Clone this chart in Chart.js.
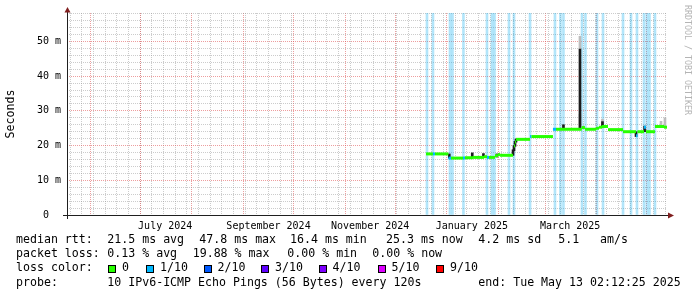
<!DOCTYPE html>
<html>
<head>
<meta charset="utf-8">
<title>smokeping</title>
<script src="https://cdn.jsdelivr.net/npm/chart.js@4.4.1/dist/chart.umd.min.js"></script>
<style>
  html, body { margin: 0; padding: 0; background: #fff; }
  #graph { position: relative; width: 697px; height: 297px; overflow: hidden; background: #fff; }
  #graph canvas { position: absolute; left: 0; top: 0; }
  .txt { position: absolute; font: 11.6px/1 'DejaVu Sans Mono', monospace; white-space: pre; color: #000; }
  .swatch { position: absolute; width: 6px; height: 6px; border: 1px solid #000; }
  #mark { position: absolute; left: 684px; top: 5px; font: 8.3px/1 'DejaVu Sans Mono', monospace; color: #b4b4b4; writing-mode: vertical-rl; white-space: pre; }
</style>
</head>
<body>
<div id="graph">
  <canvas id="chart" width="697" height="297"></canvas>
  <div id="legend"></div>
  <div id="mark">RRDTOOL / TOBI OETIKER</div>
</div>
<script>
(function () {
    // --- data ---
    const endStamp = 'Tue May 13 02:12:25 2025';
    const endTime = Date.UTC(2025, 4, 13, 2, 12, 25);
    const spanDays = 360;

    // median rtt steps (start of each step, value in ms, lost pings out of 10)
    const medianDates = [
        '2024-12-19T12', '2024-12-23T16', '2024-12-24T21', '2025-01-01T23', '2025-01-03T12',
        '2025-01-10T17', '2025-01-11T21', '2025-01-16T17', '2025-01-23T07', '2025-01-25T02',
        '2025-01-26T07', '2025-01-29T21', '2025-01-31T17', '2025-02-01T22', '2025-02-09T17',
        '2025-02-10T07', '2025-02-10T22', '2025-02-11T12', '2025-02-19T22', '2025-02-20T19',
        '2025-03-05T16', '2025-03-07T12', '2025-03-22T22', '2025-03-24T21', '2025-03-31T12',
        '2025-04-02T07', '2025-04-04T02', '2025-04-07T17', '2025-04-16T17', '2025-04-24T12',
        '2025-04-25T09', '2025-04-29T07', '2025-04-30T12', '2025-05-05T21', '2025-05-11T07',
    ];
    const medianMs = [
        17.6, 17.6, 17.6, 16.4, 16.4,
        16.4, 16.5, 16.6, 16.8, 16.6,
        16.6, 17.1, 17.4, 17.2, 18.6,
        19.9, 21.0, 21.8, 22.6, 22.6,
        24.7, 24.7, 25.2, 24.7, 25.0,
        25.3, 25.5, 24.6, 24.0, 22.8,
        24.0, 25.3, 24.0, 25.5, 25.3,
    ];
    const medianLoss = [
        0, 1, 0, 1, 0,
        1, 0, 0, 0, 1,
        0, 0, 0, 0, 0,
        0, 0, 0, 1, 0,
        1, 0, 0, 0, 0,
        0, 0, 0, 0, 1,
        0, 1, 0, 0, 0,
    ];

    // periods with 1/10 packet loss (background bars)
    const lossDates = [
        '2024-12-20T02', '2024-12-23T16', '2025-01-02T21', '2025-01-04T09', '2025-01-10T23',
        '2025-01-25T02', '2025-01-28T02', '2025-01-29T14', '2025-02-07T07', '2025-02-10T07',
        '2025-02-19T22', '2025-03-06T21', '2025-03-10T04', '2025-03-11T23', '2025-03-23T02',
        '2025-03-25T04', '2025-04-01T02', '2025-04-04T17', '2025-04-16T17', '2025-04-21T12',
        '2025-04-25T02', '2025-04-29T07', '2025-05-01T02', '2025-05-02T14', '2025-05-05T21',
    ];

    // smoke: dark spread of the pings
    const smokeDates = [
        '2025-01-02T11', '2025-01-16T06', '2025-01-22T23', '2025-01-31T02', '2025-02-09T17',
        '2025-02-10T07', '2025-02-10T22', '2025-02-11T12', '2025-03-11T23', '2025-03-21T21',
        '2025-04-04T09', '2025-04-24T12', '2025-04-29T16',
    ];
    const smokeLow = [16.4, 16.5, 16.6, 16.7, 17.2, 18.5, 19.8, 21.0, 24.7, 24.7, 25.3, 22.6, 24.0];
    const smokeHigh = [17.6, 17.9, 17.7, 17.6, 18.8, 20.0, 21.2, 21.9, 26.0, 47.8, 26.9, 24.0, 25.6];

    // smoke: light outer spread
    const hazeDates = ['2025-03-21T21', '2025-03-21T21', '2025-04-04T09', '2025-05-09T12', '2025-05-11T21'];
    const hazeLow = [47.8, 25.0, 25.0, 25.5, 25.5];
    const hazeHigh = [51.5, 29.0, 27.6, 27.0, 28.0];

    const yMax = 58.2;
    const yStep = 2;
    const yMajorStep = 10;
    const labelMonths = ['2024-07', '2024-09', '2024-11', '2025-01', '2025-03'];
    const monthNames = ['January', 'February', 'March', 'April', 'May', 'June', 'July',
        'August', 'September', 'October', 'November', 'December'];

    const rttStats = ['21.5 ms avg', '47.8 ms max', '16.4 ms min', '25.3 ms now', '4.2 ms sd', '5.1', 'am/s'];
    const lossStats = ['0.13 % avg', '19.88 % max', '0.00 % min', '0.00 % now'];
    const lossLabels = ['0', '1/10', '2/10', '3/10', '4/10', '5/10', '9/10'];
    const lossColors = ['#26ff00', '#00b8ff', '#0059ff', '#5e00ff', '#7e00ff', '#dd00ff', '#ff0000'];
    const probeText = '10 IPv6-ICMP Echo Pings (56 Bytes) every 120s';

    // --- helpers ---
    const t = (s) => Date.parse(s + ':00:00Z');
    const startTime = endTime - spanDays * 864e5;

    const RED = 'rgba(222, 79, 79, 0.55)';
    const GRAY = 'rgba(143, 143, 143, 0.45)';

    // x ticks: weekly minor grid, monthly major grid, bi-monthly labels
    const xTicks = [];
    const day = new Date(startTime);
    day.setUTCHours(0, 0, 0, 0);
    while (day.getUTCDay() !== 1) day.setUTCDate(day.getUTCDate() + 1);
    for (; day.getTime() < endTime; day.setUTCDate(day.getUTCDate() + 7)) {
        xTicks.push({ value: day.getTime(), kind: 'minor' });
    }
    const month = new Date(Date.UTC(2024, 5, 1));
    for (; month.getTime() < endTime; month.setUTCMonth(month.getUTCMonth() + 1)) {
        xTicks.push({ value: month.getTime(), kind: 'major' });
    }
    labelMonths.forEach((m) => {
        const [yy, mm] = m.split('-').map(Number);
        xTicks.push({ value: Date.UTC(yy, mm - 1, 1) + 15 * 864e5, kind: 'label', text: monthNames[mm - 1] + ' ' + yy });
    });
    xTicks.sort((a, b) => a.value - b.value);

    const yTicks = [];
    for (let v = 0; v <= yMax; v += yStep) yTicks.push({ value: v });

    // median as separate horizontal steps
    const medianPoints = [];
    medianDates.forEach((d, i) => {
        const x0 = t(d);
        const x1 = i + 1 < medianDates.length ? t(medianDates[i + 1]) : endTime;
        medianPoints.push({ x: x0, y: medianMs[i], loss: medianLoss[i] });
        medianPoints.push({ x: x1, y: medianMs[i], loss: medianLoss[i] });
        medianPoints.push({ x: x1, y: null, loss: 0 });
    });

    const axesPlugin = {
        id: 'rrdAxes',
        afterDraw(chart) {
            const { ctx, chartArea: a } = chart;
            ctx.save();
            ctx.strokeStyle = '#1f1f1f';
            ctx.lineWidth = 1;
            ctx.beginPath();
            ctx.moveTo(a.left - 4, a.bottom + 0.5);
            ctx.lineTo(a.right + 2, a.bottom + 0.5);
            ctx.moveTo(a.left + 0.5, a.bottom + 4);
            ctx.lineTo(a.left + 0.5, a.top - 1);
            ctx.stroke();
            ctx.fillStyle = '#801f1f';
            ctx.beginPath();
            ctx.moveTo(a.right + 1, a.bottom - 2.5);
            ctx.lineTo(a.right + 1, a.bottom + 3.5);
            ctx.lineTo(a.right + 7, a.bottom + 0.5);
            ctx.closePath();
            ctx.fill();
            ctx.beginPath();
            ctx.moveTo(a.left - 2.5, a.top - 0.5);
            ctx.lineTo(a.left + 3.5, a.top - 0.5);
            ctx.lineTo(a.left + 0.5, a.top - 6);
            ctx.closePath();
            ctx.fill();
            ctx.restore();
        },
    };

    Chart.defaults.font.family = "'DejaVu Sans Mono', monospace";
    Chart.defaults.color = '#000';

    new Chart(document.getElementById('chart'), {
        type: 'line',
        data: {
            datasets: [
                {
                    type: 'line',
                    label: 'median',
                    data: medianPoints,
                    borderWidth: 3,
                    borderCapStyle: 'butt',
                    pointRadius: 0,
                    spanGaps: false,
                    borderColor: lossColors[0],
                    segment: {
                        borderColor: (c) => (medianPoints[c.p0DataIndex].loss ? lossColors[1] : lossColors[0]),
                    },
                    order: 0,
                },
                {
                    type: 'bar',
                    label: 'smoke',
                    data: smokeDates.map((d, i) => ({ x: t(d), y: [smokeLow[i], smokeHigh[i]] })),
                    backgroundColor: '#1c1c1c',
                    barThickness: 2,
                    grouped: false,
                    order: 1,
                },
                {
                    type: 'bar',
                    label: 'haze',
                    data: hazeDates.map((d, i) => ({ x: t(d), y: [hazeLow[i], hazeHigh[i]] })),
                    backgroundColor: '#bdbdbd',
                    barThickness: 2,
                    grouped: false,
                    order: 2,
                },
                {
                    type: 'bar',
                    label: 'loss',
                    data: lossDates.map((d) => ({ x: t(d), y: [0, yMax] })),
                    backgroundColor: 'rgba(0, 170, 240, 0.3)',
                    barThickness: 2,
                    grouped: false,
                    order: 3,
                },
            ],
        },
        options: {
            responsive: false,
            devicePixelRatio: 1,
            animation: false,
            layout: { padding: { top: 13, right: 30, bottom: 0, left: 0 } },
            plugins: { legend: { display: false }, tooltip: { enabled: false } },
            scales: {
                x: {
                    type: 'linear',
                    min: startTime,
                    max: endTime,
                    offset: false,
                    afterBuildTicks: (scale) => { scale.ticks = xTicks.map((k) => ({ ...k })); },
                    afterFit: (scale) => { scale.height = 82; },
                    grid: {
                        offset: false,
                        drawTicks: false,
                        color: (c) => (c.tick && c.tick.kind === 'major' ? RED : c.tick && c.tick.kind === 'minor' ? GRAY : 'rgba(0,0,0,0)'),
                    },
                    border: { display: false, dash: [1, 1] },
                    ticks: {
                        autoSkip: false,
                        maxRotation: 0,
                        padding: 5,
                        font: { size: 10 },
                        color: '#000',
                        callback: (v, i, ticks) => (ticks[i].kind === 'label' ? ticks[i].text : ''),
                    },
                },
                y: {
                    type: 'linear',
                    min: 0,
                    max: yMax,
                    afterBuildTicks: (scale) => { scale.ticks = yTicks.map((k) => ({ ...k })); },
                    afterFit: (scale) => { scale.width = 67; },
                    grid: {
                        drawTicks: false,
                        color: (c) => {
                            const v = c.tick ? c.tick.value : 0;
                            if (v === 0) return 'rgba(0,0,0,0)';
                            return v % yMajorStep === 0 ? RED : GRAY;
                        },
                    },
                    border: { display: false, dash: [1, 1] },
                    title: {
                        display: true,
                        text: 'Seconds',
                        color: '#000',
                        font: { size: 11.6 },
                        padding: { top: 4, bottom: 0 },
                    },
                    ticks: {
                        autoSkip: false,
                        padding: 6,
                        font: { size: 10 },
                        color: '#000',
                        callback: (v) => (v % yMajorStep !== 0 ? '' : v === 0 ? '0  ' : v + ' m'),
                    },
                },
            },
        },
        plugins: [axesPlugin],
    });

    // --- legend below the graph ---
    const legend = document.getElementById('legend');
    const rowTops = [234.2, 248.2, 262.2, 276.9];
    const valueX = 107.3;
    function text(str, left, top) {
        const el = document.createElement('div');
        el.className = 'txt';
        el.textContent = str;
        el.style.left = left + 'px';
        el.style.top = top + 'px';
        legend.appendChild(el);
    }
    text('median rtt:', 16, rowTops[0]);
    [107.3, 199.3, 290, 386, 478.3, 558.3, 600].forEach((x, i) => text(rttStats[i], x, rowTops[0]));
    text('packet loss:', 16, rowTops[1]);
    [107.3, 192.7, 287.3, 372.3].forEach((x, i) => text(lossStats[i], x, rowTops[1]));
    text('loss color:', 16, rowTops[2]);
    [108, 146, 203.5, 261, 318.5, 377.5, 436].forEach((x, i) => {
        const sw = document.createElement('div');
        sw.className = 'swatch';
        sw.style.left = x + 'px';
        sw.style.top = '265px';
        sw.style.background = lossColors[i];
        legend.appendChild(sw);
        text(lossLabels[i], x + 14, rowTops[2]);
    });
    text('probe:', 16, rowTops[3]);
    text(probeText, valueX, rowTops[3]);
    text('end: ' + endStamp, 478.3, rowTops[3]);
})();
</script>
</body>
</html>
